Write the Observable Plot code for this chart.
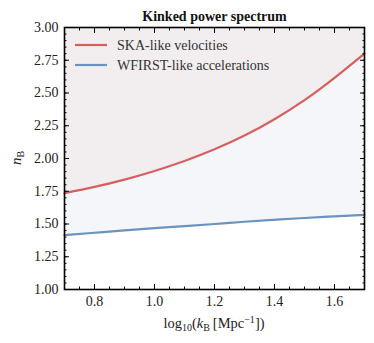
<!DOCTYPE html>
<html><head><meta charset="utf-8">
<script src="https://cdn.jsdelivr.net/npm/d3@7"></script>
<script src="https://cdn.jsdelivr.net/npm/@observablehq/plot@0.6"></script>
<style>body{margin:0;background:#fff} svg{display:block}</style>
</head><body><div id="chart"></div>
<script>
const logK    = [0.7, 0.8, 0.9, 1.0, 1.1, 1.2, 1.3, 1.4, 1.5, 1.6, 1.7];
const skaN    = [1.735, 1.783, 1.839, 1.905, 1.981, 2.070, 2.175, 2.300, 2.445, 2.615, 2.800];
const wfirstN = [1.415, 1.433, 1.451, 1.468, 1.484, 1.500, 1.517, 1.532, 1.546, 1.558, 1.570];
const seriesNames  = ["SKA-like velocities", "WFIRST-like accelerations"];
const seriesColors = ["#d65f5f", "#6b93bf"];
const regionFills  = ["#f2eeef", "#f5f6f9"];
const xDomain = [0.7, 1.7];
const yDomain = [1.0, 3.0];
const xMajor = [0.8, 1.0, 1.2, 1.4, 1.6];
const yMajor = [1.00, 1.25, 1.50, 1.75, 2.00, 2.25, 2.50, 2.75, 3.00];
const xMinor = d3.range(0, 21).map(i => +(0.7 + i * 0.05).toFixed(2));
const yMinor = d3.range(0, 41).map(i => +(1.0 + i * 0.05).toFixed(2));
const titleText = "Kinked power spectrum";

const rows = logK.map((k, i) => ({k, ska: skaN[i], wfirst: wfirstN[i], top: yDomain[1]}));
const FONT = "'Liberation Serif', serif";
const blank = () => "";

const chart = Plot.plot({
  width: 374, height: 343,
  marginLeft: 64, marginRight: 10, marginTop: 27, marginBottom: 54,
  style: {fontFamily: FONT, fontSize: "14px", color: "#222", background: "#fff"},
  x: {domain: xDomain},
  y: {domain: yDomain},
  marks: [
    Plot.areaY(rows, {x: "k", y1: "ska", y2: "top", fill: regionFills[0], curve: "natural"}),
    Plot.areaY(rows, {x: "k", y1: "wfirst", y2: "ska", fill: regionFills[1], curve: "natural"}),
    Plot.line(rows, {x: "k", y: "ska", stroke: seriesColors[0], strokeWidth: 2.2, curve: "natural"}),
    Plot.line(rows, {x: "k", y: "wfirst", stroke: seriesColors[1], strokeWidth: 2.2, curve: "natural"}),
    Plot.axisX({anchor: "bottom", ticks: xMinor, tickSize: -2.5, tickFormat: blank, label: null, stroke: "#000"}),
    Plot.axisX({anchor: "top", ticks: xMinor, tickSize: -2.5, tickFormat: blank, label: null, stroke: "#000"}),
    Plot.axisX({anchor: "bottom", ticks: xMajor, tickSize: -5, tickPadding: 12, tickFormat: ".1f", label: null, stroke: "#000", fill: "#222"}),
    Plot.axisX({anchor: "top", ticks: xMajor, tickSize: -5, tickFormat: blank, label: null, stroke: "#000"}),
    Plot.axisY({anchor: "left", ticks: yMinor, tickSize: -2.5, tickFormat: blank, label: null, stroke: "#000"}),
    Plot.axisY({anchor: "right", ticks: yMinor, tickSize: -2.5, tickFormat: blank, label: null, stroke: "#000"}),
    Plot.axisY({anchor: "left", ticks: yMajor, tickSize: -5, tickPadding: 11, tickFormat: ".2f", label: null, stroke: "#000", fill: "#222"}),
    Plot.axisY({anchor: "right", ticks: yMajor, tickSize: -5, tickFormat: blank, label: null, stroke: "#000"}),
    Plot.frame({stroke: "#000", strokeWidth: 1.6}),
    Plot.text([titleText], {frameAnchor: "top", dy: -16, fontWeight: "bold", fontSize: 14, fill: "#111"})
  ]
});
document.getElementById("chart").appendChild(chart);

const svg = d3.select(chart);
const cx = (64 + 364) / 2;
// x label
const xl = svg.append("text").attr("x", cx).attr("y", 328).attr("text-anchor", "middle")
  .attr("font-family", FONT).attr("font-size", 14.5).attr("fill", "#222");
xl.append("tspan").text("log");
xl.append("tspan").attr("font-size", 10).attr("dy", 3).text("10");
xl.append("tspan").attr("dy", -3).text("(");
xl.append("tspan").attr("font-style", "italic").text("k");
xl.append("tspan").attr("font-size", 10).attr("dy", 3).text("B");
xl.append("tspan").attr("dy", -3).text("\u2009[Mpc");
xl.append("tspan").attr("font-size", 10).attr("dy", -5).text("\u22121");
xl.append("tspan").attr("dy", 5).text("])");
// y label
const yl = svg.append("text").attr("transform", "translate(21,158) rotate(-90)").attr("text-anchor", "middle")
  .attr("font-family", FONT).attr("font-size", 15).attr("fill", "#222");
yl.append("tspan").attr("font-style", "italic").text("n");
yl.append("tspan").attr("font-size", 10).attr("dy", 3).text("B");
// legend
const lg = svg.append("g").attr("font-family", FONT).attr("font-size", 14).attr("fill", "#333")
  .attr("text-anchor", "start");
seriesNames.forEach((name, i) => {
  const y = 45 + i * 20;
  lg.append("line").attr("x1", 75).attr("x2", 107).attr("y1", y).attr("y2", y)
    .attr("stroke", seriesColors[i]).attr("stroke-width", 2.2);
  lg.append("text").attr("x", 117).attr("y", y + 4.5).attr("text-anchor", "start").text(name);
});
</script></body></html>
